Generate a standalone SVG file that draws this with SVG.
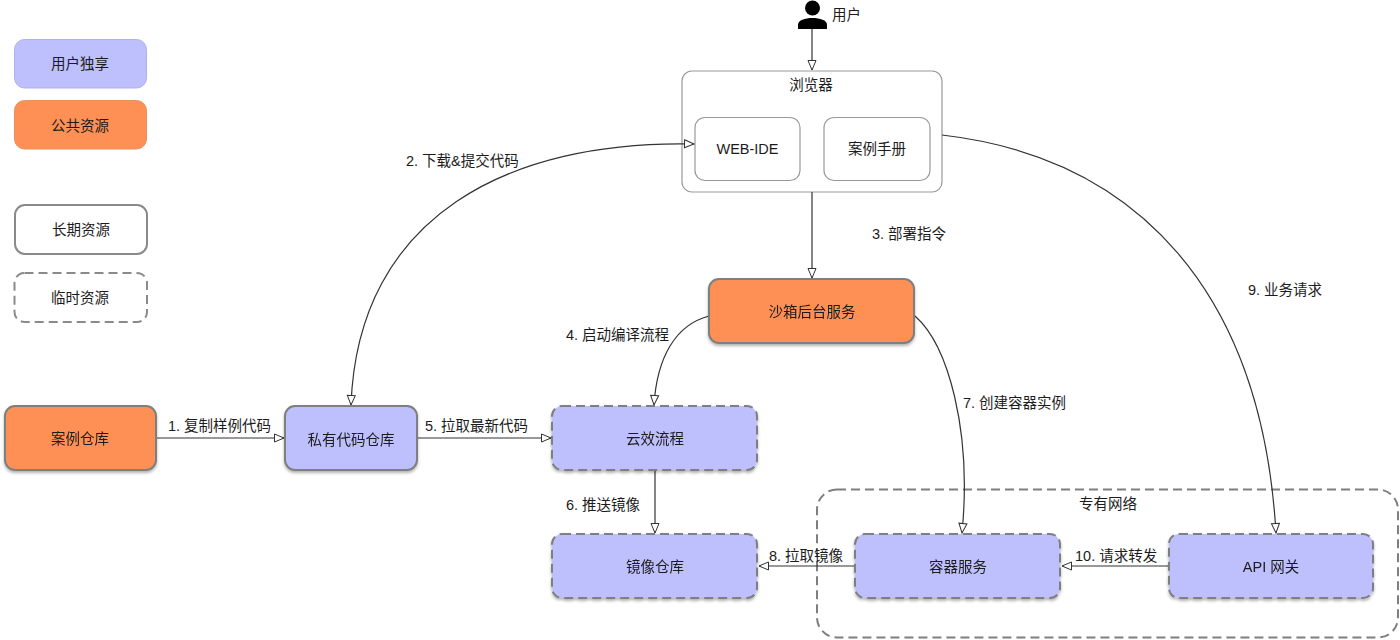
<svg xmlns="http://www.w3.org/2000/svg" width="1400" height="640" viewBox="0 0 1400 640">
  <style>
    text { font-family: "Liberation Sans", "Noto Sans CJK SC", sans-serif; font-size: 14.5px; fill: #1c1c1c; }
    .c { text-anchor: middle; }
    .box { stroke: #7f7f7f; stroke-width: 2; }
    .shadow { filter: url(#drop); }
    .mine { fill: #bebffd; }
    .shared { fill: #fe9055; }
    .dash { stroke-dasharray: 9 5; }
    .plain { fill: #fff; stroke: #8a8a8a; }
    .thin { fill: #fff; stroke: #999; stroke-width: 1.2; }
    .link { fill: none; stroke: #333; stroke-width: 1.2; marker-end: url(#tip); }
  </style>
  <defs>
    <filter id="drop" x="-10%" y="-15%" width="120%" height="135%">
      <feDropShadow dx="0" dy="2" stdDeviation="1.5" flood-color="#000" flood-opacity="0.3"/>
    </filter>
    <marker id="tip" markerUnits="userSpaceOnUse" markerWidth="12" markerHeight="10" refX="10.5" refY="5" orient="auto">
      <path d="M1 1 L10.5 5 L1 9 Z" fill="#fff" stroke="#333" stroke-width="1"/>
    </marker>
    <marker id="tipStart" markerUnits="userSpaceOnUse" markerWidth="12" markerHeight="10" refX="10.5" refY="5" orient="auto-start-reverse">
      <path d="M1 1 L10.5 5 L1 9 Z" fill="#fff" stroke="#333" stroke-width="1"/>
    </marker>
  </defs>
  <rect width="1400" height="640" fill="#fff"/>

  <!-- legend -->
  <g id="legend-own"><rect x="14.500" y="39.500" width="132" height="48.500" rx="10" class="mine" stroke="#b0b1e8"/><text x="80" y="69" class="c">用户独享</text></g>
  <g id="legend-shared"><rect x="14.500" y="100.500" width="132" height="48.500" rx="10" class="shared" stroke="#e8905e"/><text x="80" y="131" class="c">公共资源</text></g>
  <g id="legend-long"><rect x="15" y="205" width="132" height="49" rx="10" class="plain" stroke-width="2"/><text x="81" y="235" class="c">长期资源</text></g>
  <g id="legend-temp"><rect x="14.500" y="273" width="132.500" height="49" rx="10" class="plain dash" stroke-width="2"/><text x="80" y="303" class="c">临时资源</text></g>

  <!-- private network container -->
  <g id="vpc"><rect x="817" y="489.500" width="581" height="148" rx="20" fill="none" class="box dash"/><text x="1108" y="509" class="c">专有网络</text></g>

  <!-- browser and its panels -->
  <g id="browser"><rect x="682" y="71" width="260" height="121" rx="10" class="thin"/><text x="811" y="90" class="c">浏览器</text></g>
  <g id="web-ide"><rect x="695" y="117.500" width="105" height="63" rx="10" class="thin"/><text x="747.500" y="154" class="c">WEB-IDE</text></g>
  <g id="manual"><rect x="824" y="117.500" width="106" height="63" rx="10" class="thin"/><text x="877" y="154" class="c">案例手册</text></g>

  <!-- connectors -->
  <g id="connectors">
    <path class="link" d="M812 29 V70"/>
    <path class="link" style="marker-start: url(#tipStart)" d="M694 144 C510 140 358 215 351 405"/>
    <path class="link" d="M812 192 V278"/>
    <path class="link" d="M709 316 C675 325 657 358 654 405"/>
    <path class="link" d="M915 316 C948 345 972 430 962 533"/>
    <path class="link" d="M942 135 C1140 158 1262 295 1276 533"/>
    <path class="link" d="M156 438 H284"/>
    <path class="link" d="M417 438 H551"/>
    <path class="link" d="M655 470 V533"/>
    <path class="link" d="M855 566 H759"/>
    <path class="link" d="M1169 566 H1062"/>
  </g>

  <!-- user -->
  <g id="user">
    <circle cx="812.500" cy="8" r="7.500" fill="#000"/>
    <path d="M798 29 V25 C798 20 805 18 812.500 18 C820 18 827 20 827 25 V29 Z" fill="#000"/>
    <text x="832" y="20">用户</text>
  </g>

  <!-- service nodes -->
  <g id="sample-repo" class="shadow"><rect x="5" y="406" width="151" height="64" rx="10" class="box shared"/><text x="80" y="444" class="c">案例仓库</text></g>
  <g id="private-repo" class="shadow"><rect x="285" y="406" width="132" height="64" rx="10" class="box mine"/><text x="351" y="445" class="c">私有代码仓库</text></g>
  <g id="pipeline" class="shadow"><rect x="552" y="406" width="205" height="64" rx="10" class="box mine dash"/><text x="655" y="444" class="c">云效流程</text></g>
  <g id="image-repo" class="shadow"><rect x="552" y="534" width="205" height="64" rx="10" class="box mine dash"/><text x="655" y="572" class="c">镜像仓库</text></g>
  <g id="sandbox" class="shadow"><rect x="709" y="279" width="205" height="64" rx="10" class="box shared"/><text x="812" y="317" class="c">沙箱后台服务</text></g>
  <g id="container" class="shadow"><rect x="855" y="534" width="205" height="64" rx="10" class="box mine dash"/><text x="958" y="572" class="c">容器服务</text></g>
  <g id="gateway" class="shadow"><rect x="1169" y="534" width="204" height="64" rx="10" class="box mine dash"/><text x="1271" y="572" class="c">API 网关</text></g>

  <!-- connector labels -->
  <g id="labels">
    <text x="406" y="166">2. 下载&amp;提交代码</text>
    <text x="872" y="239">3. 部署指令</text>
    <text x="1248" y="295">9. 业务请求</text>
    <text x="566" y="340">4. 启动编译流程</text>
    <text x="963" y="408">7. 创建容器实例</text>
    <text x="168" y="431">1. 复制样例代码</text>
    <text x="425" y="431">5. 拉取最新代码</text>
    <text x="566" y="510">6. 推送镜像</text>
    <text x="769" y="561">8. 拉取镜像</text>
    <text x="1075" y="561">10. 请求转发</text>
  </g>
</svg>
